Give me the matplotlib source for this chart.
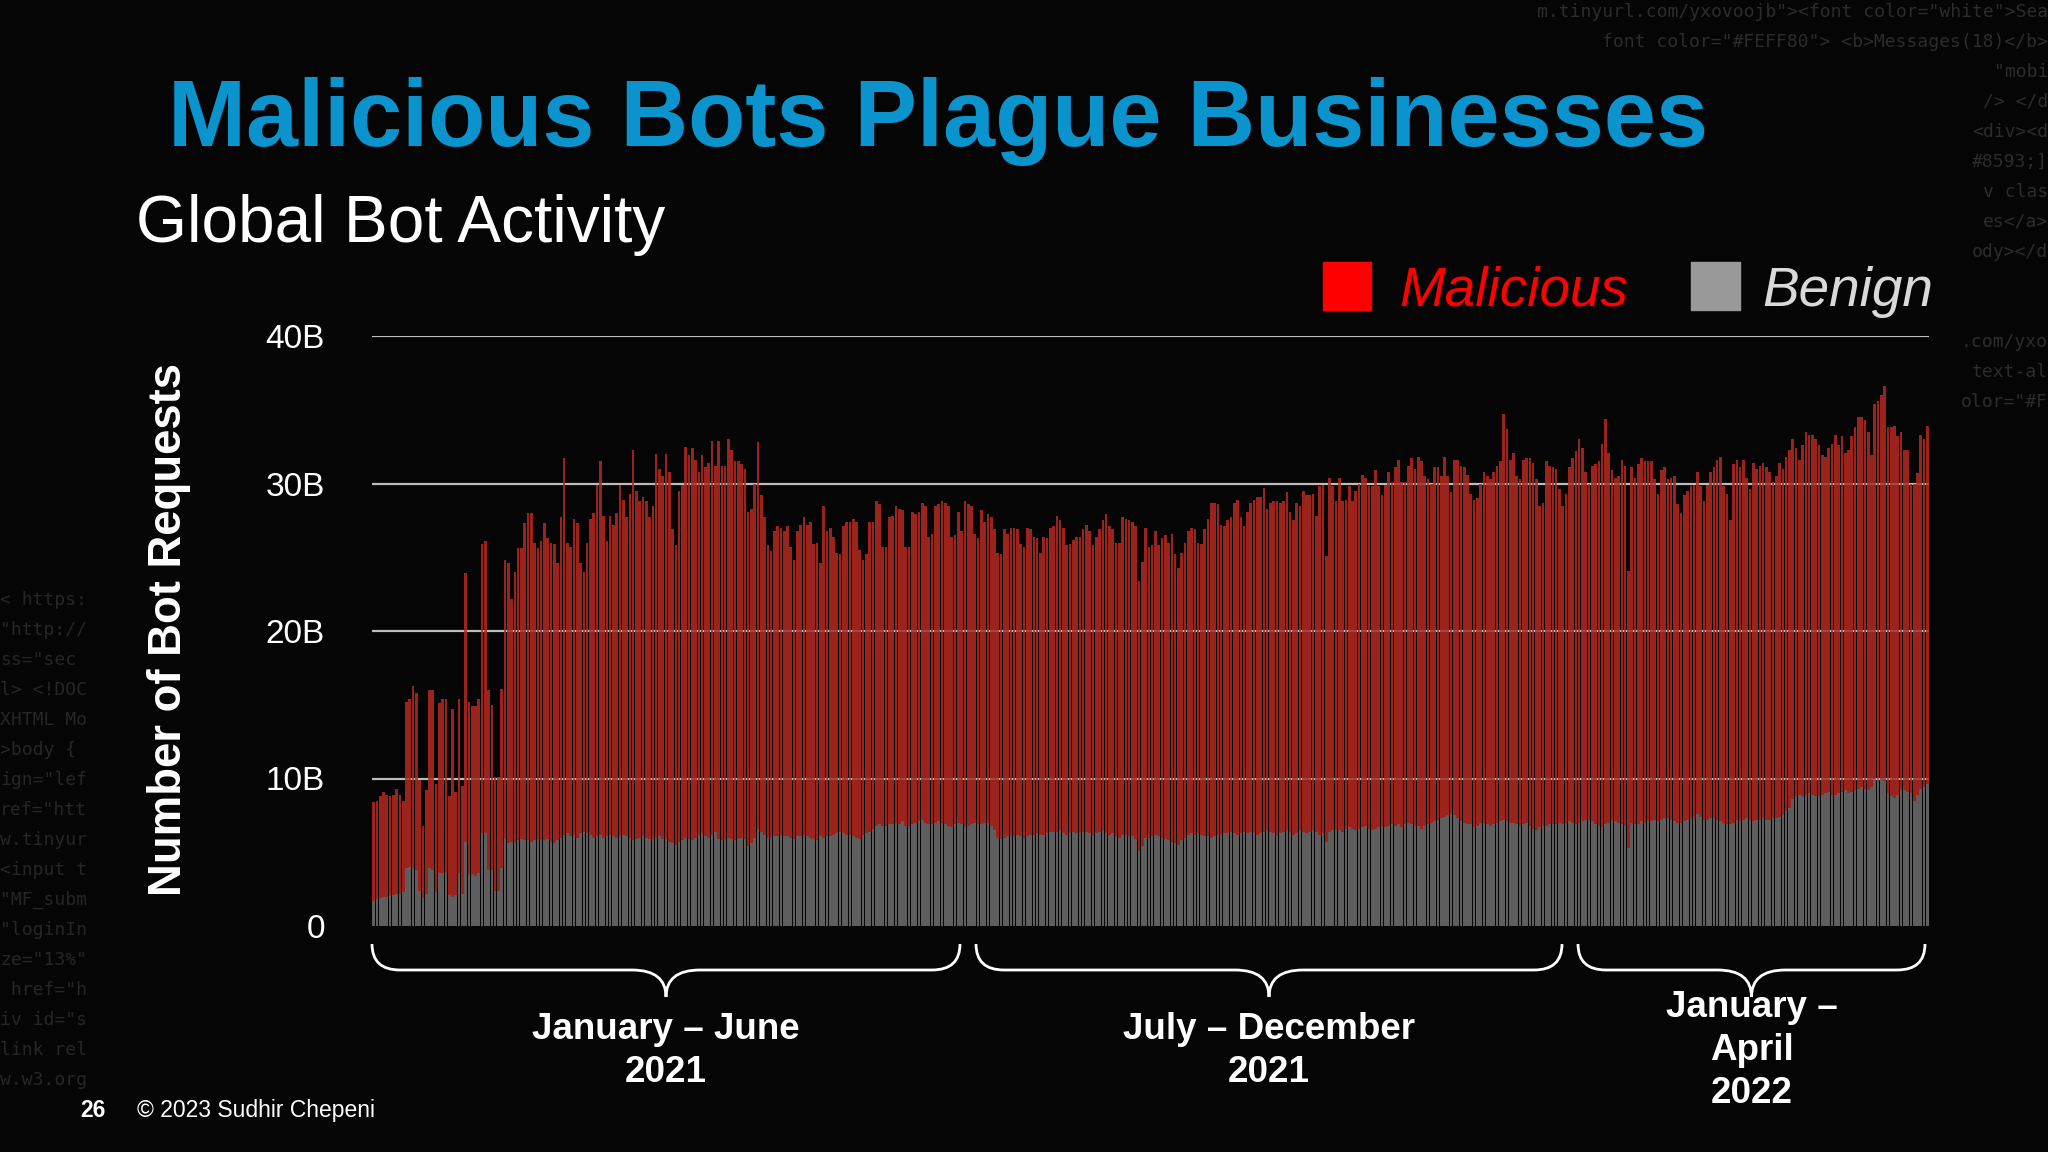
import numpy as np
import matplotlib
matplotlib.use("Agg")
import matplotlib.pyplot as plt
from matplotlib.path import Path
from matplotlib.patches import PathPatch, Rectangle

# Daily bot requests (billions), Jan 2021 -> Apr 2022.
# bar height = total, grey part = benign, red part = malicious (total - benign)
total_1 = [8.4, 8.5, 8.8, 9.1, 8.9, 8.8, 8.9, 9.3, 8.9, 8.5,
           15.2, 15.4, 16.3, 15.8, 9.9, 6.8, 9.2, 16.0, 16.0, 9.6,
           15.1, 15.4, 15.4, 8.8, 14.7, 9.1, 15.4, 9.5, 23.9, 15.2,
           14.9, 14.9, 15.4, 25.9, 26.1, 16.0, 15.0, 10.1, 10.1, 16.1,
           24.8, 24.6, 22.2, 24.0, 25.6, 25.6, 27.3, 28.0, 28.0, 26.0,
           25.6, 26.1, 27.3, 26.3, 26.0, 25.9, 24.6, 27.7, 31.7, 26.0,
           25.7, 27.6, 27.3, 24.6, 24.0, 26.0, 27.6, 28.0, 29.9, 31.5,
           27.8, 26.1, 27.8, 27.2, 28.0, 29.9, 28.9, 27.7, 29.3, 32.3,
           29.5, 28.8, 29.1, 28.8, 27.7, 28.5, 32.0, 31.0, 30.5, 32.0,
           30.8, 26.9, 25.8, 29.5, 29.9, 32.5, 31.9, 32.4, 31.6, 30.8,
           31.9, 31.1, 31.4, 32.9, 31.2]
benign_1 = [1.7, 1.8, 1.9, 2.0, 2.0, 2.1, 2.1, 2.2, 2.2, 2.3,
            3.9, 4.0, 3.9, 3.8, 2.4, 1.9, 2.2, 3.9, 3.8, 2.3,
            3.6, 3.6, 3.6, 2.1, 2.0, 2.1, 3.6, 2.2, 5.7, 3.5,
            3.5, 3.4, 3.6, 6.3, 6.3, 3.8, 3.8, 2.4, 2.4, 3.9,
            6.0, 5.6, 5.7, 5.7, 5.8, 5.9, 5.8, 5.8, 5.7, 5.8,
            5.9, 5.9, 5.8, 5.9, 5.7, 5.6, 5.8, 6.0, 6.2, 6.3,
            6.1, 6.2, 6.0, 6.3, 6.4, 6.3, 6.2, 6.0, 6.1, 6.2,
            6.0, 6.1, 6.2, 6.1, 6.0, 6.1, 6.2, 6.1, 6.0, 5.8,
            5.9, 6.0, 6.1, 6.0, 5.9, 5.9, 6.0, 6.1, 5.9, 5.9,
            5.7, 5.6, 5.5, 5.7, 5.8, 6.0, 5.9, 5.8, 6.0, 6.2,
            6.3, 6.1, 6.0, 6.2, 6.4]

total_2 = [32.9, 31.2, 31.2, 33.0, 32.3, 31.5, 31.5, 31.3, 31.0, 28.1,
           28.3, 30.0, 32.8, 29.2, 27.7, 25.8, 25.4, 26.8, 27.1, 27.0,
           26.8, 27.1, 25.7, 24.8, 26.8, 27.2, 27.7, 27.2, 27.4, 25.9,
           26.0, 24.6, 28.5, 26.8, 27.0, 26.4, 25.3, 25.2, 27.1, 27.4,
           27.4, 27.6, 27.4, 25.5, 24.8, 25.2, 27.4, 27.4, 28.8, 28.6,
           25.7, 25.7, 27.7, 27.8, 28.5, 28.3, 28.2, 25.7, 25.7, 28.1,
           27.9, 28.1, 28.7, 28.5, 26.4, 26.6, 28.5, 28.6, 28.8, 28.7,
           28.5, 26.4, 26.5, 28.1, 26.8, 28.8, 28.6, 28.5, 26.6, 26.3,
           28.2, 27.4, 27.9, 27.7, 26.9, 25.3, 25.2, 26.9, 26.6, 27.0,
           27.0, 26.9, 25.9, 25.7, 27.0, 26.9, 26.4, 26.3, 25.3, 26.4,
           26.3, 27.0, 27.1, 27.8, 27.5]
benign_2 = [5.9, 5.8, 5.9, 6.0, 5.9, 5.8, 5.9, 6.0, 5.9, 5.4,
            5.6, 6.0, 6.6, 6.4, 6.2, 6.0, 6.0, 6.1, 6.1, 6.2,
            6.1, 6.1, 6.0, 5.9, 6.1, 6.1, 6.2, 6.1, 6.0, 5.9,
            5.8, 6.1, 6.0, 6.1, 6.1, 6.2, 6.3, 6.4, 6.3, 6.2,
            6.2, 6.1, 6.0, 5.9, 6.2, 6.3, 6.4, 6.6, 6.8, 6.9,
            6.8, 6.8, 6.9, 6.9, 7.0, 6.9, 7.1, 6.8, 6.8, 6.9,
            7.0, 7.1, 7.2, 7.0, 6.9, 6.9, 7.0, 7.1, 7.0, 6.9,
            6.8, 6.7, 6.9, 7.0, 6.9, 6.8, 6.8, 6.9, 7.0, 6.9,
            6.9, 7.0, 7.0, 6.8, 6.5, 6.0, 5.9, 6.0, 6.1, 6.1,
            6.1, 6.2, 6.1, 6.0, 6.1, 6.2, 6.2, 6.3, 6.2, 6.2,
            6.3, 6.4, 6.4, 6.4, 6.5]

total_3 = [27.0, 25.8, 25.9, 26.2, 26.4, 26.4, 26.9, 27.2, 26.8, 25.8,
           26.4, 26.9, 27.5, 27.9, 27.1, 26.9, 26.0, 26.0, 27.7, 27.6,
           27.5, 27.4, 27.1, 23.4, 24.7, 27.0, 25.7, 25.8, 26.8, 25.8,
           26.3, 26.5, 26.0, 26.6, 25.2, 24.3, 25.3, 26.0, 26.8, 27.0,
           26.9, 26.0, 25.9, 26.9, 27.6, 28.7, 28.7, 28.6, 27.2, 27.1,
           27.5, 27.7, 28.7, 28.9, 27.7, 27.1, 28.1, 28.7, 28.9, 29.1,
           29.1, 29.7, 28.3, 28.7, 28.8, 28.8, 28.7, 28.8, 29.4, 28.1,
           27.5, 28.7, 28.5, 29.5, 29.2, 29.2, 29.3, 27.8, 29.8, 29.9,
           25.1, 30.4, 29.8, 28.8, 30.4, 28.8, 28.9, 29.8, 28.8, 29.5,
           30.0, 30.6, 30.4, 29.8, 29.8, 30.9, 29.8, 29.2, 29.9, 30.8,
           30.1, 31.1, 31.6]
benign_3 = [6.3, 6.2, 6.3, 6.4, 6.3, 6.3, 6.4, 6.4, 6.3, 6.2,
            6.3, 6.4, 6.5, 6.3, 6.2, 6.3, 6.1, 6.0, 6.2, 6.2,
            6.1, 6.1, 5.9, 5.1, 5.4, 6.0, 6.0, 6.1, 6.2, 6.1,
            6.0, 5.9, 5.8, 5.7, 5.6, 5.5, 5.8, 6.0, 6.2, 6.3,
            6.2, 6.3, 6.2, 6.1, 6.1, 6.0, 6.1, 6.2, 6.2, 6.3,
            6.3, 6.4, 6.3, 6.2, 6.3, 6.4, 6.3, 6.4, 6.3, 6.2,
            6.3, 6.4, 6.5, 6.4, 6.3, 6.2, 6.3, 6.4, 6.5, 6.4,
            6.2, 6.3, 6.5, 6.4, 6.3, 6.4, 6.5, 6.4, 6.2, 6.3,
            5.7, 6.4, 6.5, 6.6, 6.5, 6.4, 6.6, 6.7, 6.6, 6.5,
            6.6, 6.7, 6.8, 6.6, 6.5, 6.6, 6.7, 6.8, 6.7, 6.8,
            6.9, 6.8, 6.9]

total_4 = [30.1, 30.1, 31.2, 31.7, 31.0, 31.8, 31.5, 30.5, 30.3, 30.0,
           31.1, 31.1, 30.5, 31.8, 30.5, 29.4, 31.6, 31.6, 31.2, 31.1,
           30.6, 29.3, 28.9, 29.0, 30.0, 30.8, 30.5, 30.3, 30.8, 31.2,
           31.5, 34.7, 33.7, 31.6, 32.1, 30.5, 30.3, 31.6, 31.7, 31.7,
           31.4, 30.3, 28.5, 28.7, 31.5, 31.2, 31.1, 31.0, 29.6, 28.5,
           29.3, 31.1, 31.7, 32.2, 33.0, 32.4, 30.8, 30.0, 31.2, 31.3,
           31.5, 32.7, 34.4, 32.1, 30.9, 30.4, 30.5, 31.6, 31.2, 24.1,
           31.1, 30.4, 31.3, 31.7, 31.5, 31.5, 31.5, 30.3, 29.3, 30.9,
           31.1, 30.3, 30.4, 30.5, 28.6, 28.0, 29.2, 29.5, 29.8, 29.9,
           30.8, 29.8, 28.8, 29.9, 30.8, 31.1, 31.6, 31.8, 29.8, 29.3,
           27.5, 31.3]
benign_4 = [6.7, 6.9, 7.0, 6.9, 6.8, 6.8, 6.6, 6.8, 6.9, 7.0,
            7.1, 7.2, 7.3, 7.4, 7.5, 7.6, 7.5, 7.3, 7.1, 7.0,
            6.9, 6.9, 6.7, 6.8, 7.0, 7.0, 6.9, 6.8, 6.9, 7.0,
            7.1, 7.2, 7.1, 7.0, 7.0, 6.9, 6.8, 6.9, 7.0, 6.8,
            6.6, 6.5, 6.7, 6.8, 6.8, 6.9, 6.9, 6.9, 7.0, 6.9,
            7.0, 7.1, 7.0, 6.9, 7.0, 7.1, 7.2, 7.2, 7.1, 6.9,
            6.8, 6.7, 6.9, 7.0, 7.1, 7.1, 7.0, 6.9, 6.8, 5.3,
            7.0, 6.9, 6.9, 7.1, 7.0, 7.1, 7.1, 7.2, 7.1, 7.2,
            7.3, 7.3, 7.2, 7.1, 7.0, 7.0, 7.1, 7.2, 7.3, 7.4,
            7.6, 7.4, 7.2, 7.2, 7.3, 7.3, 7.2, 7.1, 7.0, 6.9,
            6.9, 7.0]

total_5 = [31.6, 31.1, 31.6, 30.4, 29.6, 31.4, 31.0, 31.2, 31.4, 31.1,
           30.8, 30.1, 30.5, 31.4, 31.0, 31.8, 32.3, 33.0, 32.4, 31.6,
           32.6, 33.5, 33.3, 33.3, 33.0, 32.6, 31.9, 31.8, 32.4, 32.7,
           33.3, 32.6, 33.2, 32.1, 32.3, 33.2, 33.8, 34.5, 34.5, 34.3,
           33.5, 31.9, 35.4, 35.6, 36.0, 36.6, 33.8, 33.8, 33.9, 33.2,
           33.5, 32.3, 32.3, 30.0, 30.0, 30.7, 33.3, 33.0, 33.9]
benign_5 = [7.2, 7.1, 7.2, 7.3, 7.2, 7.1, 7.2, 7.2, 7.3, 7.2,
            7.2, 7.3, 7.3, 7.4, 7.6, 7.8, 8.0, 8.6, 8.8, 8.9,
            8.8, 8.9, 9.0, 8.9, 8.8, 8.8, 8.9, 9.0, 9.1, 8.9,
            8.9, 9.0, 9.1, 9.2, 9.0, 9.1, 9.2, 9.3, 9.4, 9.3,
            9.2, 9.4, 10.0, 10.0, 9.9, 9.8, 9.0, 8.8, 8.7, 8.9,
            9.2, 9.2, 9.1, 9.0, 8.5, 8.9, 9.3, 9.4, 9.6]

y_ticks = [0, 10, 20, 30, 40]
y_tick_labels = ["0", "10B", "20B", "30B", "40B"]
periods = ["January \u2013 June\n2021", "July \u2013 December\n2021", "January \u2013\nApril\n2022"]

total = np.array(total_1 + total_2 + total_3 + total_4 + total_5)
benign = np.array(benign_1 + benign_2 + benign_3 + benign_4 + benign_5)
malicious = total - benign
days = np.arange(len(total))

RED = "#9a231c"
GREY = "#5e5e5e"
BG = "#050505"

plt.rcParams["font.family"] = ["Liberation Sans", "DejaVu Sans"]

W, H = 2048, 1152
fig = plt.figure(figsize=(W / 100, H / 100), dpi=100, facecolor=BG)


def fx(px):
    return px / W


def fy(py):
    return 1 - py / H


# faint html code in the slide background (kept clear of the real texts)
code_top = ['m.tinyurl.com/yxovoojb"><font color="white">Sea',
            'font color="#FEFF80"> <b>Messages(18)</b>']
for i, line in enumerate(code_top):
    fig.text(fx(2048), fy(12 + i * 30), line, ha="right", va="center",
             family="DejaVu Sans Mono", fontsize=13, color="#2c2c2c", zorder=0)

code_right = ['"mobi', '/> </d', '<div><d', '#8593;]', 'v clas',
              'es</a>', 'ody></d', '', '', '.com/yxo', 'text-al', 'olor="#F']
for i, line in enumerate(code_right):
    fig.text(fx(2048), fy(72 + i * 30), line, ha="right", va="center",
             family="DejaVu Sans Mono", fontsize=13, color="#2c2c2c", zorder=0)

code_left = ['< https:', '"http://', 'ss="sec', 'l> <!DOC', 'XHTML Mo', '>body {',
             'ign="lef', 'ref="htt', 'w.tinyur', '<input t', '"MF_subm',
             '"loginIn', 'ze="13%"', ' href="h', 'iv id="s', 'link rel', 'w.w3.org']
for i, line in enumerate(code_left):
    fig.text(0, fy(600 + i * 30), line, ha="left", va="center",
             family="DejaVu Sans Mono", fontsize=13, color="#262626", zorder=0)

ax = fig.add_axes([fx(372), fy(926), fx(1929) - fx(372), fy(336) - fy(926)])
ax.set_facecolor("none")

for v in y_ticks[1:]:
    ax.axhline(v, color="#b8b8b8", lw=1.6, zorder=0)

ax.bar(days, benign, width=0.8, color=GREY, linewidth=0, zorder=1)
ax.bar(days, malicious, bottom=benign, width=0.8, color=RED, linewidth=0, zorder=1)

# grid lines show faintly through the bars
for v in y_ticks[1:]:
    ax.axhline(v, color="#d0d0d0", lw=1.2, alpha=0.25, zorder=2)

ax.set_xlim(-0.5, len(days) - 0.5)
ax.set_ylim(0, 40)
ax.set_xticks([])
ax.set_yticks(y_ticks)
ax.set_yticklabels(y_tick_labels, color="white", fontsize=24)
ax.tick_params(axis="y", length=0, pad=34)
for s in ax.spines.values():
    s.set_visible(False)

fig.text(fx(169), fy(630), "Number of Bot Requests", rotation=90, ha="center", va="center",
         fontsize=32.8, weight="bold", color="white")

# titles
fig.text(fx(168), fy(146), "Malicious Bots Plague Businesses", ha="left", va="baseline",
         fontsize=67.4, weight="bold", color="#0a93cc")
fig.text(fx(136), fy(242), "Global Bot Activity", ha="left", va="baseline",
         fontsize=47.3, color="white")

# legend
fig.patches.append(Rectangle((fx(1323), fy(310)), fx(48), 48 / H, transform=fig.transFigure,
                             color="#ff0000"))
fig.text(fx(1399), fy(306), "Malicious", ha="left", va="baseline", fontsize=39.5,
         style="italic", color="#ff0000")
fig.patches.append(Rectangle((fx(1691), fy(310)), fx(49), 48 / H, transform=fig.transFigure,
                             color="#999999"))
fig.text(fx(1762), fy(306), "Benign", ha="left", va="baseline", fontsize=39.5,
         style="italic", color="#d9d9d9")


# curly braces under the bars
def brace(x0, x1, ytop=944, ybar=970, ytip=997, r=28, r2=34):
    xm = (x0 + x1) / 2
    pts = [(x0, ytop), (x0, ybar), (x0 + r, ybar),
           (xm - r2, ybar), (xm, ybar), (xm, ytip),
           (xm, ybar), (xm + r2, ybar),
           (x1 - r, ybar), (x1, ybar), (x1, ytop)]
    codes = [Path.MOVETO, Path.CURVE3, Path.CURVE3,
             Path.LINETO, Path.CURVE3, Path.CURVE3,
             Path.CURVE3, Path.CURVE3,
             Path.LINETO, Path.CURVE3, Path.CURVE3]
    verts = [(fx(a), fy(b)) for a, b in pts]
    fig.patches.append(PathPatch(Path(verts, codes), transform=fig.transFigure,
                                 fill=False, edgecolor="white", lw=2))
    return xm


spans = [(372, 960), (976, 1562), (1578, 1925)]
label_tops = [1012, 1012, 990]
for (a, b), lab, top in zip(spans, periods, label_tops):
    xm = brace(a, b)
    fig.text(fx(xm), fy(top), lab, ha="center", va="top", fontsize=26.5, weight="bold",
             color="white", linespacing=1.29)

# footer
fig.text(fx(80), fy(1117), "26", ha="left", va="baseline", fontsize=16.5, weight="bold", color="white")
fig.text(fx(137), fy(1117), "\u00a9 2023 Sudhir Chepeni", ha="left", va="baseline", fontsize=16.5,
         color="white")

fig.savefig("out.png", dpi=100, facecolor=BG)
